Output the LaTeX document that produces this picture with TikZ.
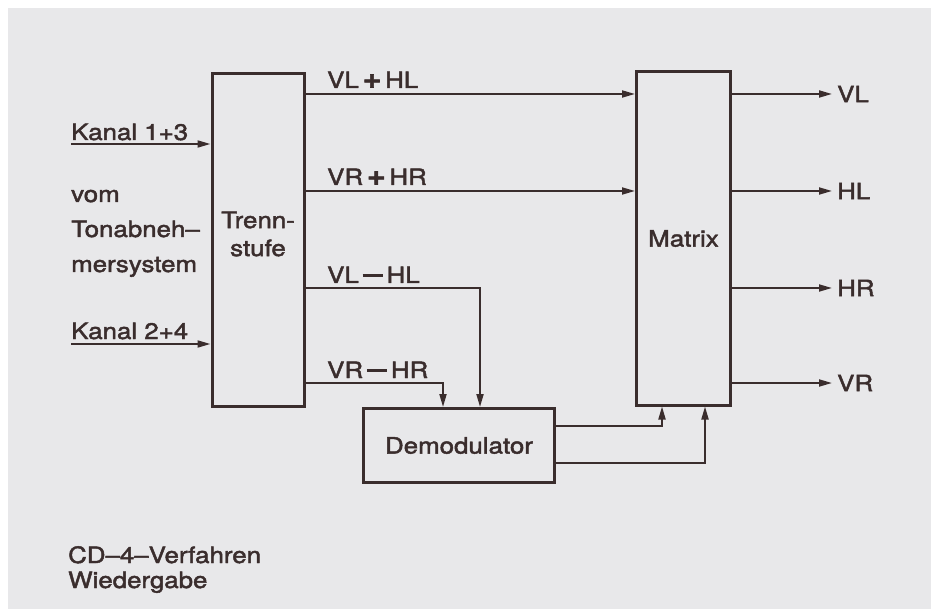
\documentclass[tikz,border=0pt]{standalone}
\usepackage{fontspec}
\setmainfont{TeX Gyre Heros}[FakeStretch=1.15, FakeBold=2]
\usepackage{xcolor}
\usepackage{tikz}
\usetikzlibrary{arrows.meta, positioning, calc}
\definecolor{ink}{HTML}{3A2D2D}
\definecolor{paper}{HTML}{E8E8EA}
\newcommand{\sigplus}{\,{\bfseries\fontsize{28}{28}\selectfont +}\,}
\newcommand{\sigminus}{\,\rule[0.28em]{0.9em}{0.12em}\,}

\tikzset{
  block/.style={draw=ink, line width=3pt, text=ink, inner sep=0pt},
  sig/.style={draw=ink, line width=1.9pt, -{Triangle[length=13pt,width=7pt]}},
  lbl/.style={text=ink, inner sep=0pt, anchor=base west},
}

\begin{document}
\begin{tikzpicture}[x=1pt, y=-1pt, font=\fontsize{22.5}{26}\selectfont]
  \useasboundingbox (0,0) rectangle (939,609);
  \fill[paper] (8,8) rectangle (931,609);

  \node[block, minimum width=92pt, minimum height=333pt] (trenn) at (258,240) {};
  \node[block, minimum width=94pt, minimum height=333pt] (matrix) at (683.5,238.5) {Matrix};
  \node[block, minimum width=191pt, minimum height=74pt] (demod) at (459,445.5) {Demodulator};
  \node[text=ink, align=center] (trenntext) at (258,234) {Trenn-\\[2pt]stufe};

  % Eingang
  \node[lbl] (k13) at (71,140) {Kanal 1+3};
  \node[lbl] (k24) at (71,339) {Kanal 2+4};
  \node[lbl, align=left, font=\fontsize{22.5}{35}\selectfont] (src) at (71,272) {vom\\Tonabneh–\\mersystem};
  \coordinate (in13) at (71,144);
  \coordinate (in24) at (71,344);
  \draw[sig] (in13) -- (in13 -| trenn.west);
  \draw[sig] (in24) -- (in24 -| trenn.west);

  % Trennstufe -> Matrix / Demodulator
  \coordinate (y1) at (0,94);
  \coordinate (y2) at (0,191);
  \coordinate (dm1) at (480,288);
  \coordinate (dm2) at (443,383);
  \draw[sig] (trenn.east |- y1) -- (matrix.west |- y1);
  \draw[sig] (trenn.east |- y2) -- (matrix.west |- y2);
  \draw[sig] (trenn.east |- dm1) -| (demod.north -| dm1);
  \draw[sig] (trenn.east |- dm2) -| (demod.north -| dm2);
  \node[lbl] (vlhlp) at (327,88) {VL\sigplus HL};
  \node[lbl] (vrhrp) at (327,185) {VR\sigplus HR};
  \node[lbl] (vlhlm) at (327,283) {VL\sigminus HL};
  \node[lbl] (vrhrm) at (327,378) {VR\sigminus HR};

  % Demodulator -> Matrix
  \coordinate (mx1) at (662,426);
  \coordinate (mx2) at (705,463);
  \draw[sig] (demod.east |- mx1) -| (matrix.south -| mx1);
  \draw[sig] (demod.east |- mx2) -| (matrix.south -| mx2);

  % Ausgaenge
  \foreach \name/\yy in {VL/94, HL/191, HR/288, VR/383} {
    \node[lbl, anchor=west, inner xsep=5pt] (out\name) at (832,\yy) {\name};
    \draw[sig] (matrix.east |- out\name) -- (out\name.west);
  }

  \node[lbl, align=left, font=\fontsize{22.5}{25}\selectfont] (caption) at (68,588) {CD–4–Verfahren\\Wiedergabe};
\end{tikzpicture}
\end{document}
